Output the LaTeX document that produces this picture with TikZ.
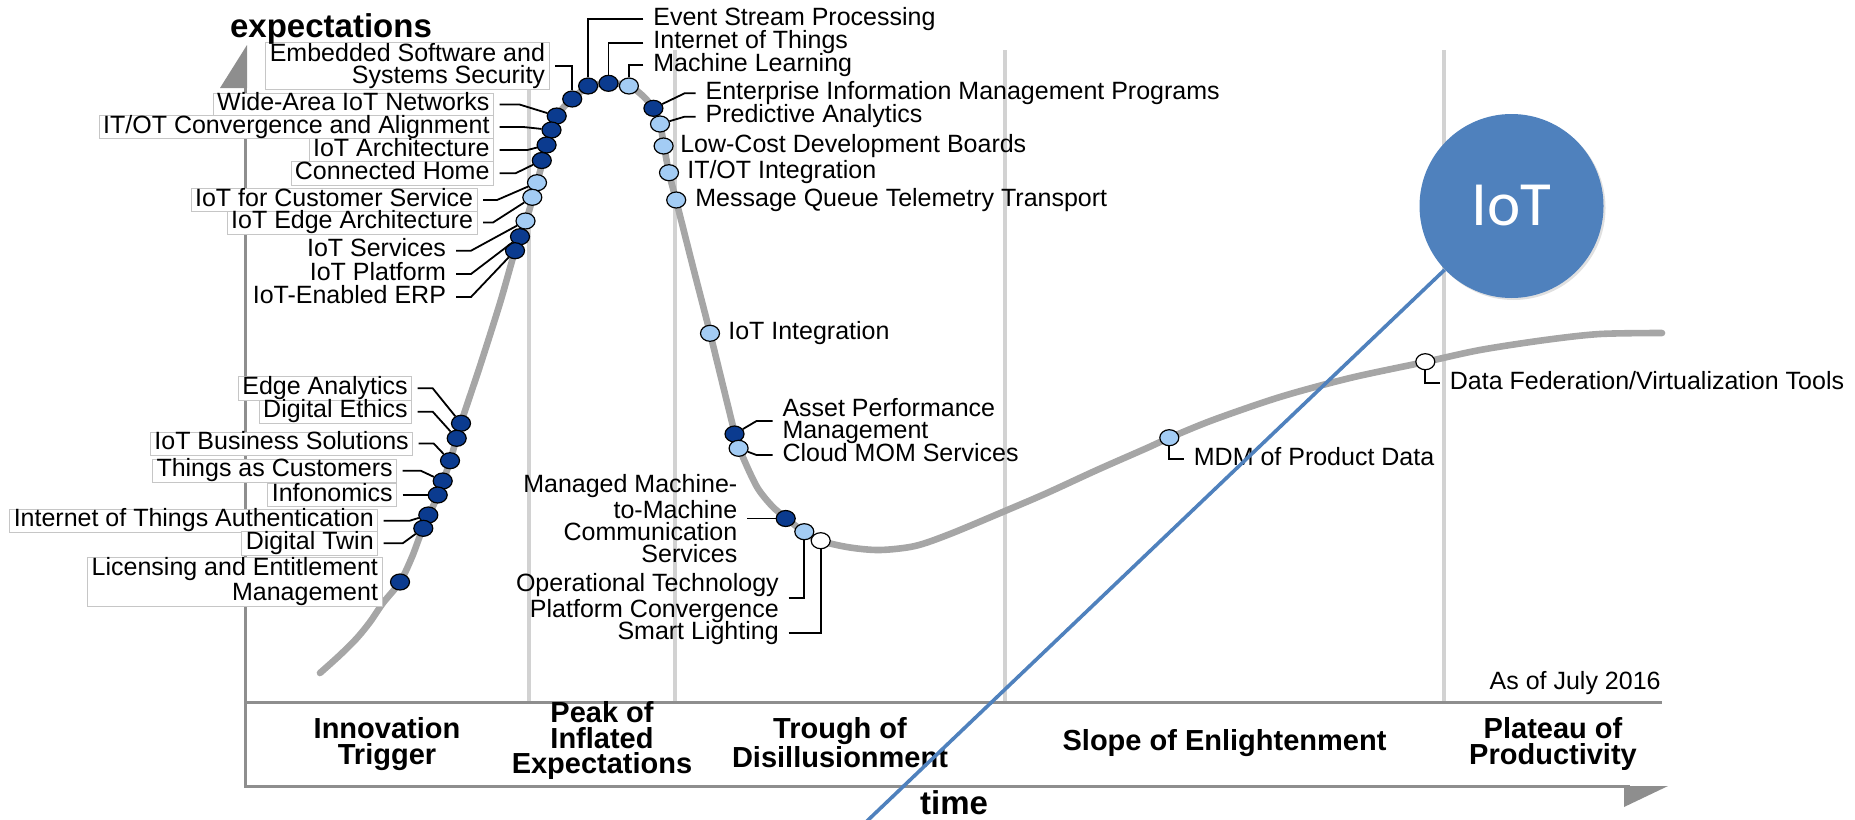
\documentclass[tikz,border=0pt]{standalone}
\usepackage{fontspec}
\setmainfont{Liberation Sans}
\newfontfamily\iotfont{Carlito}
\usetikzlibrary{shapes.geometric,shadows}

\definecolor{hdark}{HTML}{0B3B8F}
\definecolor{hlight}{HTML}{A3CCF4}
\definecolor{haxis}{HTML}{8E8E8E}
\definecolor{hcurve}{HTML}{A6A6A6}
\definecolor{hband}{HTML}{D2D2D2}
\definecolor{iotblue}{HTML}{4F81BD}

\begin{document}
\begin{tikzpicture}[x=0.5pt,y=-0.5pt,
  lbltxt/.style={font=\fontsize{12.5}{11}\selectfont, inner xsep=2pt, inner ysep=0.3pt, outer xsep=3pt},
  lbl/.style={lbltxt, text height=8.6pt, text depth=2.4pt},
  lblbox/.style={draw=gray!45, line width=0.4pt, fill=white},
  dot/.style={ellipse, draw=black, line width=0.6pt, minimum width=9.5pt, minimum height=8pt, inner sep=0pt},
  darkdot/.style={dot, fill=hdark},
  lightdot/.style={dot, fill=hlight},
  whitedot/.style={dot, fill=white},
  link/.style={black, line width=0.9pt},
  phaselbl/.style={font=\bfseries\fontsize{14.5}{12.8}\selectfont, align=center},
  axislbl/.style={font=\bfseries\fontsize{16.5}{16.5}\selectfont, inner sep=0pt},
  iotball/.style={circle, fill=iotblue, minimum size=92pt, inner sep=0pt, text=white,
    font=\iotfont\fontsize{31.5}{31.5}\selectfont,
    drop shadow={shadow xshift=1pt, shadow yshift=-1pt, opacity=.12, fill=black}}]
\useasboundingbox (0,0) rectangle (1855,819);

% axes and phase band
\fill[haxis] (220,88) -- (247,45) -- (247,88) -- cycle;
\fill[haxis] (1624,786) -- (1668,786) -- (1624,807) -- cycle;
\draw[haxis, line width=1.5pt] (245.5,80) -- (245.5,786) -- (1630,786);
\draw[haxis, line width=1.5pt] (245.5,702) -- (1662,702);
\foreach \x in {529,675,1005,1444}
  \draw[hband, line width=1.6pt] (\x,50) -- (\x,701);
\node[anchor=east, inner sep=0pt, font=\fontsize{12.5}{11}\selectfont] (asof) at (1661,683) {As of July 2016};

% hype curve
\draw[hcurve, line width=3.3pt, line cap=round] plot[smooth, tension=0.5] coordinates {
  (320,673) (340,655) (357,638) (370,622) (383,603) (400,582) (412,557) (423,528)
  (438,495) (450,461) (461,423) (480,366) (500,303) (515,251) (526,221) (537,183)
  (547,145) (557,116) (572,99) (588,87) (608,83) (629,86) (643,96) (653,108)
  (660,124) (664,146) (669,173) (676,200) (693,267) (710,333) (735,434) (742,455)
  (757,487) (772,506) (786,518) (804,532) (821,541) (850,547.5) (880,550) (915,546)
  (950,534) (1005,511) (1047,493) (1097,470) (1147,448) (1169,438) (1213,420)
  (1280,397) (1350,378) (1425,362) (1480,350) (1545,340) (1600,334) (1662,333)};

% labels, left of the peak
\node[lbltxt, lblbox, align=right, anchor=east] (emb) at (555,66) {Embedded Software and\\Systems Security};
\node[lbl, lblbox, anchor=east] (wide) at (499.5,104.5) {Wide-Area IoT Networks};
\node[lbl, lblbox, anchor=east] (itotc) at (499.5,127) {IT/OT Convergence and Alignment};
\node[lbl, lblbox, anchor=east] (arch) at (499.5,150) {IoT Architecture};
\node[lbl, lblbox, anchor=east] (home) at (499.5,173.3) {Connected Home};
\node[lbl, lblbox, anchor=east] (cust) at (483,200) {IoT for Customer Service};
\node[lbl, lblbox, anchor=east] (edgea) at (483,222.5) {IoT Edge Architecture};
\node[lbl, anchor=east] (serv) at (456,250.7) {IoT Services};
\node[lbl, anchor=east] (plat) at (456,274) {IoT Platform};
\node[lbl, anchor=east] (erp) at (456,297) {IoT-Enabled ERP};

\node[lbl, lblbox, anchor=east] (edgean) at (417.7,388.3) {Edge Analytics};
\node[lbl, lblbox, anchor=east] (ethics) at (417.7,411.7) {Digital Ethics};
\node[lbl, lblbox, anchor=east] (busi) at (418.7,443.5) {IoT Business Solutions};
\node[lbl, lblbox, anchor=east] (tcust) at (402.7,470.7) {Things as Customers};
\node[lbl, lblbox, anchor=east] (infon) at (402.7,495) {Infonomics};
\node[lbl, lblbox, anchor=east] (auth) at (383.7,520.7) {Internet of Things Authentication};
\node[lbl, lblbox, anchor=east] (twin) at (383.7,543.3) {Digital Twin};
\node[lbltxt, lblbox, align=right, anchor=east] (lic) at (388,581.5) {Licensing and Entitlement\\Management};

% labels, top and right
\node[lbl, anchor=west] (esp) at (643.4,19.3) {Event Stream Processing};
\node[lbl, anchor=west] (iotm) at (643.4,42.7) {Internet of Things};
\node[lbl, anchor=west] (ml) at (643.4,65) {Machine Learning};
\node[lbl, anchor=west] (eim) at (695.6,93.3) {Enterprise Information Management Programs};
\node[lbl, anchor=west] (pa) at (695.6,116.7) {Predictive Analytics};
\node[lbl, anchor=west] (lcdb) at (670.3,146) {Low-Cost Development Boards};
\node[lbl, anchor=west] (itoti) at (677.3,172.7) {IT/OT Integration};
\node[lbl, anchor=west] (mqtt) at (685.4,200) {Message Queue Telemetry Transport};
\node[lbl, anchor=west] (ioti) at (718.3,333.3) {IoT Integration};
\node[lbltxt, align=left, anchor=west] (apm) at (772.5,421) {Asset Performance\\Management};
\node[lbl, anchor=west] (cmom) at (772.5,455) {Cloud MOM Services};
\node[lbltxt, align=right, anchor=east] (m2m) at (747.3,518.5) {Managed Machine-\\to-Machine\\Communication\\Services};
\node[lbltxt, align=right, anchor=east] (otpc) at (788.7,598) {Operational Technology\\Platform Convergence};
\node[lbl, anchor=east] (slight) at (788.7,633) {Smart Lighting};
\node[lbl, anchor=west] (mdm) at (1183.9,459.3) {MDM of Product Data};
\node[lbl, anchor=west] (dfv) at (1439.9,383.3) {Data Federation/Virtualization Tools};

% dots on the curve
\node[darkdot] (d-emb) at (572.2,99) {};
\node[darkdot] (d-wide) at (556.7,116) {};
\node[darkdot] (d-itotc) at (551.5,130) {};
\node[darkdot] (d-arch) at (546.6,145) {};
\node[darkdot] (d-home) at (541.8,160.5) {};
\node[lightdot] (d-cust) at (537,182.7) {};
\node[lightdot] (d-edgea) at (532.3,197.3) {};
\node[lightdot] (d-serv) at (525.5,221) {};
\node[darkdot] (d-plat) at (520,236.7) {};
\node[darkdot] (d-erp) at (515,250.7) {};
\node[darkdot] (d-edgean) at (461,423.3) {};
\node[darkdot] (d-ethics) at (456.7,438.3) {};
\node[darkdot] (d-busi) at (450,460.7) {};
\node[darkdot] (d-tcust) at (442.7,481) {};
\node[darkdot] (d-infon) at (437.7,495) {};
\node[darkdot] (d-auth) at (428.3,515) {};
\node[darkdot] (d-twin) at (423.3,528.3) {};
\node[darkdot] (d-lic) at (400,582) {};
\node[darkdot] (d-esp) at (588.1,86) {};
\node[darkdot] (d-iotm) at (608.5,83.3) {};
\node[lightdot] (d-ml) at (628.9,86) {};
\node[darkdot] (d-eim) at (653.4,108.3) {};
\node[lightdot] (d-pa) at (660,124) {};
\node[lightdot] (d-lcdb) at (663.6,146) {};
\node[lightdot] (d-itoti) at (669,172.7) {};
\node[lightdot] (d-mqtt) at (676.2,200) {};
\node[lightdot] (d-ioti) at (710,333.3) {};
\node[darkdot] (d-apm) at (734.5,434) {};
\node[lightdot] (d-cmom) at (738.6,448.3) {};
\node[darkdot] (d-m2m) at (785.7,518.5) {};
\node[lightdot] (d-otpc) at (804.3,531.7) {};
\node[whitedot] (d-sl) at (820.7,540.7) {};
\node[lightdot] (d-mdm) at (1169.3,437.7) {};
\node[whitedot] (d-df) at (1425.3,361.7) {};

% connectors
\draw[link] (emb.east) -| (d-emb);
\draw[link] (wide.east) -- ++(20,0) -- (d-wide);
\draw[link] (itotc.east) -- ++(24,0) -- (d-itotc);
\draw[link] (arch.east) -- ++(28,0) -- (d-arch);
\draw[link] (home.east) -- ++(16,0) -- (d-home);
\draw[link] (cust.east) -- ++(14,0) -- (d-cust);
\draw[link] (edgea.east) -- ++(10,0) -- (d-edgea);
\draw[link] (serv.east) -- ++(15,0) -- (d-serv);
\draw[link] (plat.east) -- ++(15,0) -- (d-plat);
\draw[link] (erp.east) -- ++(15,0) -- (d-erp);
\draw[link] (edgean.east) -- ++(15,0) -- (d-edgean);
\draw[link] (ethics.east) -- ++(15,0) -- (d-ethics);
\draw[link] (busi.east) -- ++(15,0) -- (d-busi);
\draw[link] (tcust.east) -- ++(18,0) -- (d-tcust);
\draw[link] (infon.east) -- (d-infon);
\draw[link] (auth.east) -- ++(26,0) -- (d-auth);
\draw[link] (twin.east) -- ++(19,0) -- (d-twin);
\draw[link] (esp.west) -| (d-esp);
\draw[link] (iotm.west) -| (d-iotm);
\draw[link] (ml.west) -| (d-ml);
\draw[link] (eim.west) -- ++(-11,0) -- (d-eim);
\draw[link] (pa.west) -- ++(-11,0) -- (d-pa);
\draw[link] (apm.west) -- ++(-16,0) -- (d-apm);
\draw[link] (cmom.west) -- ++(-16,0) -- (d-cmom);
\draw[link] (m2m.east) -- (d-m2m);
\draw[link] (otpc.east) -| (d-otpc);
\draw[link] (slight.east) -| (d-sl);
\draw[link] (mdm.west) -| (d-mdm);
\draw[link] (dfv.west) -| (d-df);

% phase names and axis titles
\node[phaselbl] (innov) at (387,744) {Innovation\\Trigger};
\node[phaselbl] (peak) at (602,740.5) {Peak of\\Inflated\\Expectations};
\node[phaselbl] (trough) at (840,743) {Trough of\\Disillusionment};
\node[phaselbl] (slope) at (1224.5,743.3) {Slope of Enlightenment};
\node[phaselbl] (plateau) at (1553,744) {Plateau of\\Productivity};
\node[axislbl] (ylbl) at (331,29) {expectations};
\node[axislbl] (xlbl) at (954,803) {time};

% IoT callout
\node[iotball] (iot) at (1511.5,206) {IoT};
\coordinate (tail) at (866,822);
\draw[iotblue, line width=1.8pt] (iot) -- (tail);
\end{tikzpicture}
\end{document}
